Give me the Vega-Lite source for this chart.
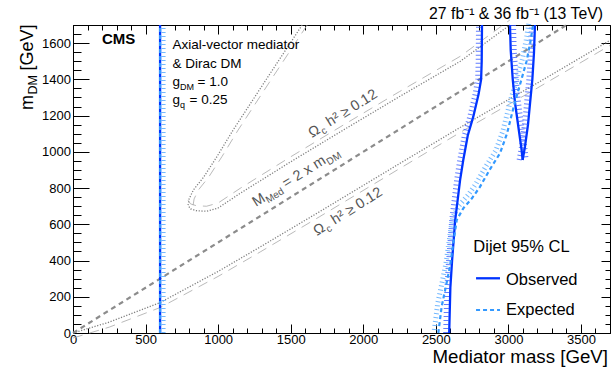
{
  "$schema": "https://vega.github.io/schema/vega-lite/v6.json",
  "width": 537,
  "height": 308,
  "autosize": {"type": "none"},
  "padding": {"left": 73, "top": 25, "right": 2, "bottom": 36},
  "background": "white",
  "config": {
    "view": {"stroke": "black", "strokeWidth": 1},
    "text": {"font": "Liberation Sans", "color": "black"},
    "axis": {"labelFont": "Liberation Sans", "labelColor": "black", "tickColor": "black", "grid": false, "domain": false, "title": null, "format": "d"}
  },
  "datasets": {
    "curves": [
      {"s": "relicL", "i": 0, "M": 0, "mDM": 0},
      {"s": "relicL", "i": 1, "M": 250, "mDM": 60},
      {"s": "relicL", "i": 2, "M": 600, "mDM": 168},
      {"s": "relicL", "i": 3, "M": 1000, "mDM": 340},
      {"s": "relicL", "i": 4, "M": 1290, "mDM": 475},
      {"s": "relicL", "i": 5, "M": 1700, "mDM": 670},
      {"s": "relicL", "i": 6, "M": 2250, "mDM": 935},
      {"s": "relicL", "i": 7, "M": 2700, "mDM": 1150},
      {"s": "relicL", "i": 8, "M": 3200, "mDM": 1380},
      {"s": "relicL", "i": 9, "M": 3700, "mDM": 1615},
      {"s": "relicU", "i": 0, "M": 1579, "mDM": 1700},
      {"s": "relicU", "i": 1, "M": 1340, "mDM": 1410},
      {"s": "relicU", "i": 2, "M": 1103, "mDM": 1120},
      {"s": "relicU", "i": 3, "M": 993, "mDM": 975},
      {"s": "relicU", "i": 4, "M": 900, "mDM": 860},
      {"s": "relicU", "i": 5, "M": 830, "mDM": 790},
      {"s": "relicU", "i": 6, "M": 800, "mDM": 740},
      {"s": "relicU", "i": 7, "M": 793, "mDM": 705},
      {"s": "relicU", "i": 8, "M": 810, "mDM": 685},
      {"s": "relicU", "i": 9, "M": 850, "mDM": 675},
      {"s": "relicU", "i": 10, "M": 920, "mDM": 672},
      {"s": "relicU", "i": 11, "M": 1000, "mDM": 690},
      {"s": "relicU", "i": 12, "M": 1152, "mDM": 771},
      {"s": "relicU", "i": 13, "M": 1500, "mDM": 945},
      {"s": "relicU", "i": 14, "M": 1862, "mDM": 1120},
      {"s": "relicU", "i": 15, "M": 2250, "mDM": 1305},
      {"s": "relicU", "i": 16, "M": 2669, "mDM": 1500},
      {"s": "relicU", "i": 17, "M": 3010, "mDM": 1700},
      {"s": "diag", "i": 0, "M": 0, "mDM": 0},
      {"s": "diag", "i": 1, "M": 3400, "mDM": 1700},
      {"s": "obs600", "i": 0, "M": 600, "mDM": 0},
      {"s": "obs600", "i": 1, "M": 600, "mDM": 1700},
      {"s": "exp600", "i": 0, "M": 600, "mDM": 0},
      {"s": "exp600", "i": 1, "M": 600, "mDM": 1700},
      {"s": "obs1", "i": 0, "M": 2592, "mDM": 0},
      {"s": "obs1", "i": 1, "M": 2600, "mDM": 250},
      {"s": "obs1", "i": 2, "M": 2612, "mDM": 400},
      {"s": "obs1", "i": 3, "M": 2633, "mDM": 620},
      {"s": "obs1", "i": 4, "M": 2667, "mDM": 844},
      {"s": "obs1", "i": 5, "M": 2689, "mDM": 955},
      {"s": "obs1", "i": 6, "M": 2720, "mDM": 1090},
      {"s": "obs1", "i": 7, "M": 2758, "mDM": 1194},
      {"s": "obs1", "i": 8, "M": 2795, "mDM": 1320},
      {"s": "obs1", "i": 9, "M": 2812, "mDM": 1400},
      {"s": "obs1", "i": 10, "M": 2816, "mDM": 1500},
      {"s": "obs1", "i": 11, "M": 2818, "mDM": 1700},
      {"s": "obs2L", "i": 0, "M": 3011, "mDM": 1700},
      {"s": "obs2L", "i": 1, "M": 3016, "mDM": 1560},
      {"s": "obs2L", "i": 2, "M": 3030, "mDM": 1400},
      {"s": "obs2L", "i": 3, "M": 3046, "mDM": 1268},
      {"s": "obs2L", "i": 4, "M": 3070, "mDM": 1130},
      {"s": "obs2L", "i": 5, "M": 3091, "mDM": 1010},
      {"s": "obs2L", "i": 6, "M": 3098, "mDM": 955},
      {"s": "obs2R", "i": 0, "M": 3098, "mDM": 955},
      {"s": "obs2R", "i": 1, "M": 3114, "mDM": 1028},
      {"s": "obs2R", "i": 2, "M": 3135, "mDM": 1150},
      {"s": "obs2R", "i": 3, "M": 3149, "mDM": 1268},
      {"s": "obs2R", "i": 4, "M": 3165, "mDM": 1400},
      {"s": "obs2R", "i": 5, "M": 3176, "mDM": 1544},
      {"s": "obs2R", "i": 6, "M": 3183, "mDM": 1700},
      {"s": "exp1", "i": 0, "M": 2517, "mDM": 0},
      {"s": "exp1", "i": 1, "M": 2540, "mDM": 145},
      {"s": "exp1", "i": 2, "M": 2570, "mDM": 260},
      {"s": "exp1", "i": 3, "M": 2597, "mDM": 366},
      {"s": "exp1", "i": 4, "M": 2620, "mDM": 495},
      {"s": "exp1", "i": 5, "M": 2644, "mDM": 624},
      {"s": "exp1", "i": 6, "M": 2689, "mDM": 688},
      {"s": "exp1", "i": 7, "M": 2750, "mDM": 745},
      {"s": "exp1", "i": 8, "M": 2804, "mDM": 807},
      {"s": "exp1", "i": 9, "M": 2870, "mDM": 900},
      {"s": "exp1", "i": 10, "M": 2942, "mDM": 992},
      {"s": "exp1", "i": 11, "M": 2990, "mDM": 1100},
      {"s": "exp1", "i": 12, "M": 3040, "mDM": 1260},
      {"s": "exp1", "i": 13, "M": 3090, "mDM": 1400},
      {"s": "exp1", "i": 14, "M": 3125, "mDM": 1500},
      {"s": "exp1", "i": 15, "M": 3150, "mDM": 1600},
      {"s": "exp1", "i": 16, "M": 3170, "mDM": 1700},
      {"s": "legObs", "i": 0, "M": 2777, "mDM": 302},
      {"s": "legObs", "i": 1, "M": 2942, "mDM": 302},
      {"s": "legExp", "i": 0, "M": 2777, "mDM": 127},
      {"s": "legExp", "i": 1, "M": 2942, "mDM": 127}
    ],
    "labels": [
      {"id": "cms", "M": 199.8, "mDM": 1595, "t": "CMS"},
      {"id": "ax1", "M": 685.6, "mDM": 1567.5, "t": "Axial-vector mediator"},
      {"id": "ax2", "M": 685.6, "mDM": 1465.4, "t": "& Dirac DM"},
      {"id": "gdm", "M": 685.6, "mDM": 1363.3, "t": "g"},
      {"id": "gq", "M": 685.6, "mDM": 1263.9, "t": "g"},
      {"id": "gdmsub", "M": 737.2, "mDM": 1363.3, "t": "DM"},
      {"id": "gqsub", "M": 737.2, "mDM": 1263.9, "t": "q"},
      {"id": "gdmval", "M": 857.8, "mDM": 1363.3, "t": "= 1.0"},
      {"id": "gqval", "M": 802.7, "mDM": 1263.9, "t": "= 0.25"},
      {"id": "omU", "M": 1646.7, "mDM": 1076.3, "t": "Ω"},
      {"id": "omL", "M": 1681.2, "mDM": 535.4, "t": "Ω"},
      {"id": "omUc", "M": 1646.7, "mDM": 1076.3, "t": "c"},
      {"id": "omLc", "M": 1681.2, "mDM": 535.4, "t": "c"},
      {"id": "omUr", "M": 1646.7, "mDM": 1076.3, "t": "h² ≥ 0.12"},
      {"id": "omLr", "M": 1681.2, "mDM": 535.4, "t": "h² ≥ 0.12"},
      {"id": "med1", "M": 1260.9, "mDM": 695.5, "t": "M"},
      {"id": "med2", "M": 1260.9, "mDM": 695.5, "t": "Med"},
      {"id": "med3", "M": 1260.9, "mDM": 695.5, "t": "= 2 x m"},
      {"id": "med4", "M": 1260.9, "mDM": 695.5, "t": "DM"},
      {"id": "lumi", "M": 3651.8, "mDM": 1731.5, "t": "27 fb⁻¹ & 36 fb⁻¹ (13 TeV)"},
      {"id": "xtitle", "M": 3686, "mDM": -165.6, "t": "Mediator mass [GeV]"},
      {"id": "yt1", "M": -275.6, "mDM": 1230.8, "t": "m"},
      {"id": "yt2", "M": -275.6, "mDM": 1230.8, "t": "DM"},
      {"id": "yt3", "M": -275.6, "mDM": 1230.8, "t": "[GeV]"},
      {"id": "leg0", "M": 2758.1, "mDM": 448.7, "t": "Dijet 95% CL"},
      {"id": "leg1", "M": 2983.4, "mDM": 265, "t": "Observed"},
      {"id": "leg2", "M": 2983.4, "mDM": 99.4, "t": "Expected"}
    ]
  },
  "encoding": {
    "x": {"field": "M", "type": "quantitative", "scale": {"domain": [0, 3700], "nice": false, "zero": false}, "axis": null},
    "y": {"field": "mDM", "type": "quantitative", "scale": {"domain": [0, 1700], "nice": false, "zero": false}, "axis": null}
  },
  "resolve": {"axis": {"x": "independent", "y": "independent"}},
  "layer": [
    {
      "data": {"name": "curves"},
      "transform": [{"filter": {"field": "s", "equal": "relicL"}}],
      "mark": {"type": "line", "stroke": "#a8a8a8", "strokeWidth": 0.8, "strokeDash": [10, 7], "yOffset": 5},
      "encoding": {
        "x": {"field": "M", "type": "quantitative", "scale": {"domain": [0, 3700], "nice": false, "zero": false},
              "axis": {"orient": "bottom", "values": [0, 500, 1000, 1500, 2000, 2500, 3000, 3500], "ticks": false, "labels": true, "labelFontSize": 13, "labelPadding": 0, "labelFlush": false, "labelOverlap": false, "labelBound": false}},
        "y": {"field": "mDM", "type": "quantitative", "scale": {"domain": [0, 1700], "nice": false, "zero": false},
              "axis": {"orient": "left", "values": [0, 200, 400, 600, 800, 1000, 1200, 1400, 1600], "ticks": false, "labels": true, "labelFontSize": 13, "labelPadding": 2.5, "labelFlush": false, "labelOverlap": false, "labelBound": false}},
        "order": {"field": "i"}
      }
    },
    {
      "data": {"name": "curves"},
      "transform": [{"filter": "datum.s === 'relicU' && datum.i <= 7"}],
      "mark": {"type": "line", "stroke": "#a8a8a8", "strokeWidth": 0.8, "strokeDash": [10, 7], "xOffset": 5},
      "encoding": {
        "x": {"field": "M", "type": "quantitative", "scale": {"domain": [0, 3700], "nice": false, "zero": false},
              "axis": {"orient": "bottom", "values": [0, 500, 1000, 1500, 2000, 2500, 3000, 3500], "ticks": true, "tickSize": -9, "labels": false}},
        "y": {"field": "mDM", "type": "quantitative", "scale": {"domain": [0, 1700], "nice": false, "zero": false},
              "axis": {"orient": "left", "values": [0, 200, 400, 600, 800, 1000, 1200, 1400, 1600], "ticks": true, "tickSize": -16, "labels": false}},
        "order": {"field": "i"}
      }
    },
    {
      "data": {"name": "curves"},
      "transform": [{"filter": "datum.s === 'relicU' && datum.i >= 7"}],
      "mark": {"type": "line", "stroke": "#a8a8a8", "strokeWidth": 0.8, "strokeDash": [10, 7], "yOffset": -5},
      "encoding": {
        "x": {"field": "M", "type": "quantitative", "scale": {"domain": [0, 3700], "nice": false, "zero": false},
              "axis": {"orient": "bottom", "values": [0,100,200,300,400,500,600,700,800,900,1000,1100,1200,1300,1400,1500,1600,1700,1800,1900,2000,2100,2200,2300,2400,2500,2600,2700,2800,2900,3000,3100,3200,3300,3400,3500,3600,3700], "ticks": true, "tickSize": -5, "labels": false}},
        "y": {"field": "mDM", "type": "quantitative", "scale": {"domain": [0, 1700], "nice": false, "zero": false},
              "axis": {"orient": "left", "values": [0,50,100,150,200,250,300,350,400,450,500,550,600,650,700,750,800,850,900,950,1000,1050,1100,1150,1200,1250,1300,1350,1400,1450,1500,1550,1600,1650,1700], "ticks": true, "tickSize": -8, "labels": false}},
        "order": {"field": "i"}
      }
    },
    {
      "data": {"name": "curves"},
      "transform": [{"filter": {"field": "s", "equal": "diag"}}],
      "mark": {"type": "line", "stroke": "#8c8c8c", "strokeWidth": 2.2, "strokeDash": [5, 4]},
      "encoding": {
        "x": {"field": "M", "type": "quantitative", "scale": {"domain": [0, 3700], "nice": false, "zero": false},
              "axis": {"orient": "top", "values": [0, 500, 1000, 1500, 2000, 2500, 3000, 3500], "ticks": true, "tickSize": -9, "labels": false}},
        "y": {"field": "mDM", "type": "quantitative", "scale": {"domain": [0, 1700], "nice": false, "zero": false},
              "axis": {"orient": "right", "values": [0, 200, 400, 600, 800, 1000, 1200, 1400, 1600], "ticks": true, "tickSize": -9, "labels": false}},
        "order": {"field": "i"}
      }
    },
    {
      "data": {"name": "curves"},
      "transform": [{"filter": {"field": "s", "equal": "relicL"}}],
      "mark": {"type": "line", "stroke": "#808080", "strokeWidth": 1.3, "strokeDash": [1.2, 1.6]},
      "encoding": {
        "x": {"field": "M", "type": "quantitative", "scale": {"domain": [0, 3700], "nice": false, "zero": false},
              "axis": {"orient": "top", "values": [0,100,200,300,400,500,600,700,800,900,1000,1100,1200,1300,1400,1500,1600,1700,1800,1900,2000,2100,2200,2300,2400,2500,2600,2700,2800,2900,3000,3100,3200,3300,3400,3500,3600,3700], "ticks": true, "tickSize": -5, "labels": false}},
        "y": {"field": "mDM", "type": "quantitative", "scale": {"domain": [0, 1700], "nice": false, "zero": false},
              "axis": {"orient": "right", "values": [0,50,100,150,200,250,300,350,400,450,500,550,600,650,700,750,800,850,900,950,1000,1050,1100,1150,1200,1250,1300,1350,1400,1450,1500,1550,1600,1650,1700], "ticks": true, "tickSize": -5, "labels": false}},
        "order": {"field": "i"}
      }
    },
    {
      "data": {"name": "curves"},
      "transform": [{"filter": {"field": "s", "equal": "relicU"}}],
      "mark": {"type": "line", "stroke": "#808080", "strokeWidth": 1.3, "strokeDash": [1.2, 1.6]},
      "encoding": {"order": {"field": "i"}}
    },
    {
      "data": {"name": "curves"},
      "transform": [{"filter": {"field": "s", "equal": "exp600"}}],
      "mark": {"type": "line", "stroke": "#5aabff", "strokeWidth": 4, "strokeDash": [1, 3], "xOffset": 3.5, "opacity": 0.85},
      "encoding": {"order": {"field": "i"}}
    },
    {
      "data": {"name": "curves"},
      "transform": [{"filter": {"field": "s", "oneOf": ["obs1", "obs2R"]}}],
      "mark": {"type": "line", "stroke": "#3a5cff", "strokeWidth": 5, "strokeDash": [1, 3], "xOffset": -3.5, "opacity": 0.8},
      "encoding": {"detail": {"field": "s"}, "order": {"field": "i"}}
    },
    {
      "data": {"name": "curves"},
      "transform": [{"filter": {"field": "s", "equal": "obs2L"}}],
      "mark": {"type": "line", "stroke": "#3a5cff", "strokeWidth": 5, "strokeDash": [1, 3], "xOffset": 3.5, "opacity": 0.8},
      "encoding": {"order": {"field": "i"}}
    },
    {
      "data": {"name": "curves"},
      "transform": [{"filter": {"field": "s", "equal": "exp1"}}],
      "mark": {"type": "line", "stroke": "#5aabff", "strokeWidth": 5, "strokeDash": [1, 3], "xOffset": -4, "yOffset": -3, "opacity": 0.85},
      "encoding": {"order": {"field": "i"}}
    },
    {
      "data": {"name": "curves"},
      "transform": [{"filter": {"field": "s", "oneOf": ["obs600", "obs1", "obs2L", "obs2R", "legObs"]}}],
      "mark": {"type": "line", "stroke": "#0033ff", "strokeWidth": 2.3},
      "encoding": {"detail": {"field": "s"}, "order": {"field": "i"}}
    },
    {
      "data": {"name": "curves"},
      "transform": [{"filter": {"field": "s", "oneOf": ["exp600", "exp1", "legExp"]}}],
      "mark": {"type": "line", "stroke": "#3399ff", "strokeWidth": 2.2, "strokeDash": [4, 3]},
      "encoding": {"detail": {"field": "s"}, "order": {"field": "i"}}
    },
    {
      "data": {"name": "labels"},
      "transform": [{"filter": {"field": "id", "equal": "cms"}}],
      "mark": {"type": "text", "align": "left", "baseline": "alphabetic", "fontSize": 15, "fontWeight": "bold"},
      "encoding": {"text": {"field": "t"}}
    },
    {
      "data": {"name": "labels"},
      "transform": [{"filter": {"field": "id", "oneOf": ["ax1", "ax2", "gdm", "gq", "gdmval", "gqval"]}}],
      "mark": {"type": "text", "align": "left", "baseline": "alphabetic", "fontSize": 13.5},
      "encoding": {"text": {"field": "t"}}
    },
    {
      "data": {"name": "labels"},
      "transform": [{"filter": {"field": "id", "oneOf": ["gdmsub", "gqsub"]}}],
      "mark": {"type": "text", "align": "left", "baseline": "alphabetic", "fontSize": 9, "dy": 3.5},
      "encoding": {"text": {"field": "t"}}
    },
    {
      "data": {"name": "labels"},
      "transform": [{"filter": {"field": "id", "oneOf": ["omU", "omL", "med1"]}}],
      "mark": {"type": "text", "align": "left", "baseline": "alphabetic", "fontSize": 14.5, "angle": -32, "color": "#555555"},
      "encoding": {"text": {"field": "t"}}
    },
    {
      "data": {"name": "labels"},
      "transform": [{"filter": {"field": "id", "oneOf": ["omUc", "omLc"]}}],
      "mark": {"type": "text", "align": "left", "baseline": "alphabetic", "fontSize": 10, "angle": -32, "dx": 11.5, "dy": 3.5, "color": "#555555"},
      "encoding": {"text": {"field": "t"}}
    },
    {
      "data": {"name": "labels"},
      "transform": [{"filter": {"field": "id", "oneOf": ["omUr", "omLr"]}}],
      "mark": {"type": "text", "align": "left", "baseline": "alphabetic", "fontSize": 14.5, "angle": -32, "dx": 21, "color": "#555555"},
      "encoding": {"text": {"field": "t"}}
    },
    {
      "data": {"name": "labels"},
      "transform": [{"filter": {"field": "id", "equal": "med2"}}],
      "mark": {"type": "text", "align": "left", "baseline": "alphabetic", "fontSize": 10, "angle": -32, "dx": 12.3, "dy": 3.5, "color": "#555555"},
      "encoding": {"text": {"field": "t"}}
    },
    {
      "data": {"name": "labels"},
      "transform": [{"filter": {"field": "id", "equal": "med3"}}],
      "mark": {"type": "text", "align": "left", "baseline": "alphabetic", "fontSize": 14.5, "angle": -32, "dx": 35.5, "color": "#555555"},
      "encoding": {"text": {"field": "t"}}
    },
    {
      "data": {"name": "labels"},
      "transform": [{"filter": {"field": "id", "equal": "med4"}}],
      "mark": {"type": "text", "align": "left", "baseline": "alphabetic", "fontSize": 10, "angle": -32, "dx": 84, "dy": 3.5, "color": "#555555"},
      "encoding": {"text": {"field": "t"}}
    },
    {
      "data": {"name": "labels"},
      "transform": [{"filter": {"field": "id", "equal": "lumi"}}],
      "mark": {"type": "text", "align": "right", "baseline": "alphabetic", "fontSize": 15.8},
      "encoding": {"text": {"field": "t"}}
    },
    {
      "data": {"name": "labels"},
      "transform": [{"filter": {"field": "id", "equal": "xtitle"}}],
      "mark": {"type": "text", "align": "right", "baseline": "alphabetic", "fontSize": 18.7},
      "encoding": {"text": {"field": "t"}}
    },
    {
      "data": {"name": "labels"},
      "transform": [{"filter": {"field": "id", "equal": "yt1"}}],
      "mark": {"type": "text", "align": "left", "baseline": "alphabetic", "fontSize": 18, "angle": 270},
      "encoding": {"text": {"field": "t"}}
    },
    {
      "data": {"name": "labels"},
      "transform": [{"filter": {"field": "id", "equal": "yt2"}}],
      "mark": {"type": "text", "align": "left", "baseline": "alphabetic", "fontSize": 12.5, "angle": 270, "dx": 15.5, "dy": 4},
      "encoding": {"text": {"field": "t"}}
    },
    {
      "data": {"name": "labels"},
      "transform": [{"filter": {"field": "id", "equal": "yt3"}}],
      "mark": {"type": "text", "align": "left", "baseline": "alphabetic", "fontSize": 18, "angle": 270, "dx": 39.5},
      "encoding": {"text": {"field": "t"}}
    },
    {
      "data": {"name": "labels"},
      "transform": [{"filter": {"field": "id", "oneOf": ["leg0", "leg1", "leg2"]}}],
      "mark": {"type": "text", "align": "left", "baseline": "alphabetic", "fontSize": 16.5},
      "encoding": {"text": {"field": "t"}}
    }
  ]
}
